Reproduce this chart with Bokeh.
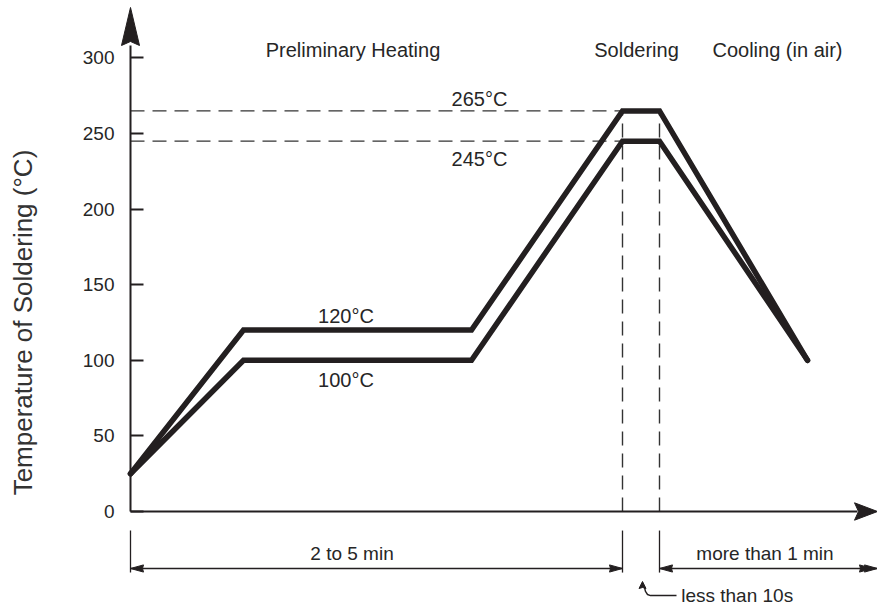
import math
from bokeh.plotting import figure
from bokeh.models import Range1d, FixedTicker
from bokeh.core.properties import value
from bokeh.embed import file_html
from bokeh.resources import INLINE

# ---- data -------------------------------------------------------------
# time axis in arbitrary units (profile break points)
t_profile = [0, 113, 341, 492, 529, 677]
upper_temp = [25, 120, 120, 265, 265, 100]
lower_temp = [25, 100, 100, 245, 245, 100]
y_ticks = [0, 50, 100, 150, 200, 250, 300]
peak_levels = [265, 245]
hold_levels = [120, 100]
phase_names = ["Preliminary Heating", "Soldering", "Cooling (in air)"]
phase_centers = [222.5, 506, 647]
dim_labels = ["2 to 5 min", "more than 1 min", "less than 10s"]
y_title = "Temperature of Soldering (°C)"

FONT = "Liberation Sans"
INK = "#231f20"
TXT = "#262626"

W, H = 877, 608
ORIGIN_PX = 130     # pixel column of t = 0
ZERO_PX = 511       # pixel row of 0 °C
S = 1.5117          # pixels per degree
X_END = W - ORIGIN_PX

p = figure(width=W, height=H, output_backend="svg", toolbar_location=None,
           x_range=Range1d(-ORIGIN_PX, X_END),
           y_range=Range1d(-(H - ZERO_PX) / S, ZERO_PX / S),
           x_axis_location=None, min_border_left=0, min_border_right=0,
           min_border_top=0, min_border_bottom=0)
p.outline_line_color = None
p.grid.visible = False
p.background_fill_color = "white"
p.border_fill_color = "white"

ax = p.yaxis[0]
ax.fixed_location = 0
ax.ticker = FixedTicker(ticks=y_ticks)
ax.bounds = (0, 308)
ax.major_tick_in = 13
ax.major_tick_out = 0
ax.minor_tick_line_color = None
ax.axis_line_width = 2
ax.axis_line_color = INK
ax.major_tick_line_width = 2
ax.major_tick_line_color = INK
ax.major_label_standoff = 16
ax.major_label_text_font = FONT
ax.major_label_text_font_size = "19px"
ax.major_label_text_color = TXT

tf = value(FONT)
p.text(x=[-108], y=[125.0], text=[y_title], angle=math.pi / 2, text_font=tf,
       text_font_size="26px", text_color="#333333", text_align="center",
       text_baseline="middle")

def head(tx, ty, d, length, half_w, notch=0.0):
    if d == "right":
        return ([tx, tx - length, tx - length + notch, tx - length],
                [ty, ty + half_w / S, ty, ty - half_w / S])
    if d == "left":
        return ([tx, tx + length, tx + length - notch, tx + length],
                [ty, ty + half_w / S, ty, ty - half_w / S])
    # up
    return ([tx, tx + half_w, tx, tx - half_w],
            [ty, ty - length / S, ty - (length - notch) / S, ty - length / S])

# dashed guide lines
dash = "14 8"
for lv in peak_levels:
    p.line([0, t_profile[3]], [lv, lv], line_color="#333333", line_width=1.4, line_dash=dash)
for tx in (t_profile[3], t_profile[4]):
    p.line([tx, tx], [0, peak_levels[0]], line_color="#333333", line_width=1.4, line_dash=dash)

# profiles
for temps in (upper_temp, lower_temp):
    p.line(t_profile, temps, line_color=INK, line_width=5.5, line_join="miter", line_cap="round")

# x axis line + arrow heads
p.line([0, X_END - 20], [0, 0], line_color=INK, line_width=2)
xs, ys = head(X_END, 0, "right", 23, 8.7, 4)
p.patch(xs, ys, color=INK)
xs, ys = head(0, 333.4, "up", 38, 9, 4)
p.patch(xs, ys, color=INK)

# dimension lines
ext_top, ext_bot, dim_y = -12.6, -40.4, -37.7
for tx in (0, t_profile[3], t_profile[4]):
    p.line([tx, tx], [ext_top, ext_bot], line_color=INK, line_width=1.3)
p.line([0, t_profile[3]], [dim_y, dim_y], line_color=INK, line_width=1.3)
p.line([t_profile[4], X_END], [dim_y, dim_y], line_color=INK, line_width=1.3)
for (tx, d) in ((0, "left"), (t_profile[3], "right"), (t_profile[4], "left"),
                (X_END, "right"), (X_END - 5, "right")):
    xs, ys = head(tx, dim_y, d, 13, 3.6, 1)
    p.patch(xs, ys, color=INK)

# hook arrow for "less than 10s"
p.line([514, 515, 517, 520, 546], [-50.3, -52.9, -54.9, -55.6, -55.6], line_color=INK, line_width=1.4)
xs, ys = head(512, -46.3, "up", 7, 3.5, 1)
p.patch(xs, ys, color=INK)

# texts
p.text(x=phase_centers, y=[305.3] * 3, text=phase_names, text_font=tf, text_font_size="20px",
       text_color=TXT, text_align="center", text_baseline="middle")
p.text(x=[349, 349], y=[273.2, 233.5], text=[f"{v}°C" for v in peak_levels], text_font=tf,
       text_font_size="20px", text_color=TXT, text_align="center", text_baseline="middle")
p.text(x=[215.5, 215.5], y=[129, 87.3], text=[f"{v}°C" for v in hold_levels], text_font=tf,
       text_font_size="20px", text_color=TXT, text_align="center", text_baseline="middle")
p.text(x=[221.5, 634.5], y=[-27.6, -27.8], text=dim_labels[:2], text_font=tf,
       text_font_size="19px", text_color=TXT, text_align="center", text_baseline="middle")
p.text(x=[550.7], y=[-55.6], text=dim_labels[2:], text_font=tf,
       text_font_size="19px", text_color=TXT, text_align="left", text_baseline="middle")

open("out.html", "w").write(file_html(p, INLINE))
